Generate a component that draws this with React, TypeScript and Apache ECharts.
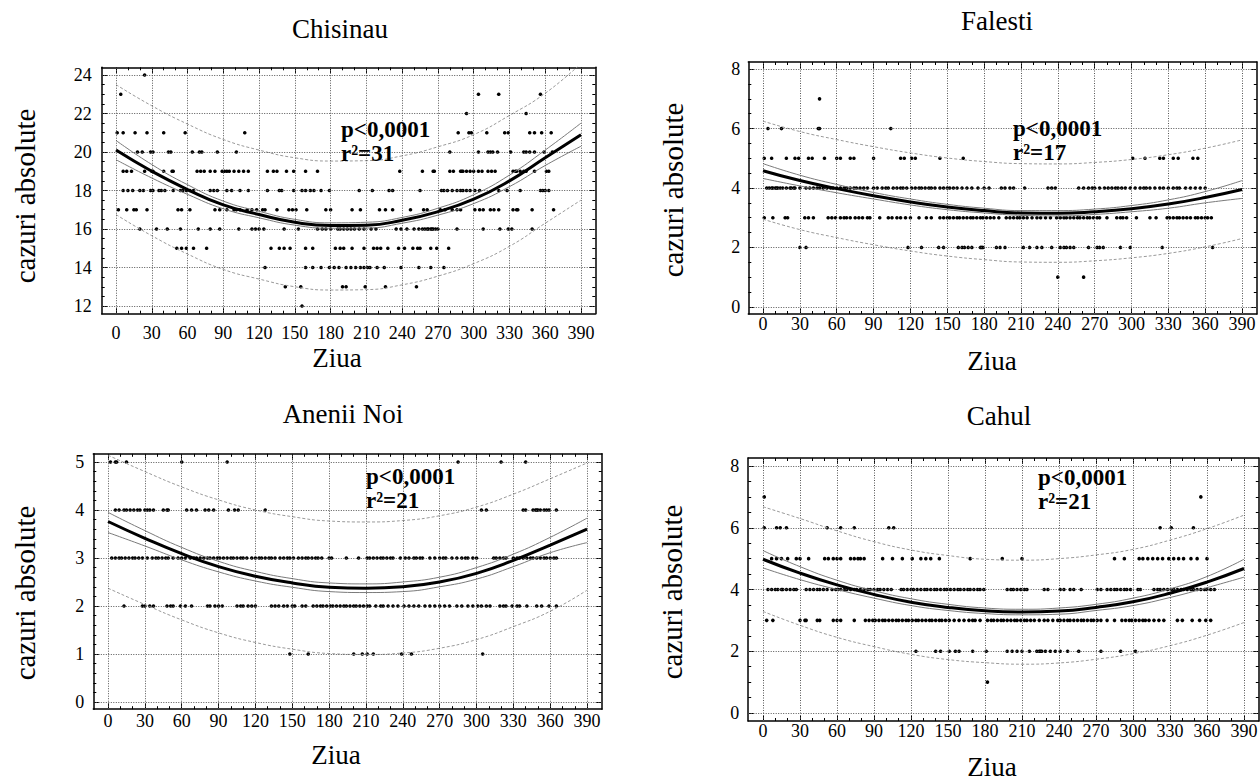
import React, { useEffect, useRef } from "react";
import * as echarts from "echarts";

// ---------- shared axis values ----------
const fitDays = [0, 30, 60, 90, 120, 150, 180, 210, 240, 270, 300, 330, 360, 390];
const xMajor = [0, 30, 60, 90, 120, 150, 180, 210, 240, 270, 300, 330, 360, 390];
const xMinor = [10, 20, 40, 50, 70, 80, 100, 110, 130, 140, 160, 170, 190, 200, 220, 230, 250, 260, 280, 290, 310, 320, 340, 350, 370, 380];

// ---------- Chisinau ----------
const chisinauRows: [number, number[]][] = [
  [24, [24]],
  [23, [4, 304, 321, 356]],
  [22, [294, 344]],
  [21, [1, 6, 16, 26, 40, 58, 108, 287, 296, 298, 311, 326, 329, 347, 351, 357, 365]],
  [20, [18, 22, 29, 31, 44, 46, 64, 70, 72, 85, 101, 280, 304, 312, 314, 316, 320, 331, 342, 344, 347, 351, 359, 366]],
  [19, [6, 9, 13, 24, 30, 31, 40, 47, 48, 68, 71, 74, 79, 83, 89, 91, 93, 95, 99, 103, 107, 111, 127, 132, 135, 143, 149, 159, 169, 238, 257, 266, 267, 280, 283, 289, 290, 291, 294, 297, 300, 304, 307, 312, 315, 318, 333, 335, 336, 339, 342, 344, 351, 361, 363]],
  [18, [6, 10, 14, 20, 23, 29, 31, 36, 38, 41, 48, 54, 56, 59, 62, 65, 79, 82, 85, 93, 97, 104, 111, 127, 137, 139, 149, 156, 159, 163, 166, 172, 179, 204, 215, 229, 232, 255, 273, 275, 278, 282, 286, 289, 291, 294, 297, 301, 305, 321, 328, 339, 356, 358, 360, 363]],
  [17, [2, 9, 15, 17, 26, 52, 55, 62, 83, 87, 93, 99, 101, 104, 110, 114, 118, 123, 125, 135, 145, 148, 151, 160, 176, 180, 198, 205, 221, 226, 232, 247, 258, 261, 272, 276, 282, 286, 289, 301, 305, 308, 314, 317, 321, 333, 336, 337, 349, 367]],
  [16, [20, 34, 43, 54, 69, 79, 87, 103, 114, 117, 120, 124, 141, 153, 169, 173, 176, 180, 186, 188, 191, 194, 197, 200, 204, 208, 214, 218, 235, 239, 244, 250, 254, 257, 259, 261, 262, 264, 265, 266, 268, 270, 286, 308, 322, 329, 332, 349]],
  [15, [51, 55, 59, 65, 76, 130, 137, 141, 146, 159, 165, 184, 188, 191, 198, 208, 216, 219, 222, 228, 237, 242, 249, 253, 255, 264, 269, 279]],
  [14, [125, 159, 165, 172, 179, 183, 187, 193, 197, 201, 205, 208, 211, 213, 219, 225, 239, 254, 264, 275]],
  [13, [142, 155, 190, 193, 209, 226, 252]],
  [12, [156]],
];
const chisinauFit = [20.1, 19.0, 18.05, 17.25, 16.75, 16.35, 16.18, 16.2, 16.45, 16.9, 17.55, 18.5, 19.7, 20.9];
const chisinauCiUp = [20.6, 19.35, 18.3, 17.45, 16.92, 16.5, 16.32, 16.35, 16.6, 17.08, 17.78, 18.8, 20.1, 21.5];
const chisinauCiLo = [19.6, 18.65, 17.8, 17.05, 16.58, 16.2, 16.04, 16.05, 16.3, 16.72, 17.32, 18.2, 19.3, 20.3];
const chisinauPiUp = [23.5, 22.4, 21.45, 20.65, 20.1, 19.7, 19.53, 19.55, 19.8, 20.27, 20.9, 21.9, 23.05, 24.6];
const chisinauPiLo = [16.75, 15.65, 14.7, 13.9, 13.4, 13.0, 12.83, 12.85, 13.1, 13.55, 14.2, 15.1, 16.3, 17.5];
const chisinauYMajor = [12, 14, 16, 18, 20, 22, 24];
const chisinauYMinor = [12.5, 13, 13.5, 14.5, 15, 15.5, 16.5, 17, 17.5, 18.5, 19, 19.5, 20.5, 21, 21.5, 22.5, 23, 23.5];

// ---------- Falesti ----------
const falestiRows: [number, number[]][] = [
  [7, [46]],
  [6, [4, 15, 45, 46, 104]],
  [5, [1, 7, 19, 26, 29, 37, 40, 50, 60, 63, 71, 74, 90, 112, 115, 121, 124, 144, 163, 301, 311, 323, 326, 334, 338, 350, 354]],
  [4, [3, 5, 7, 8, 10, 11, 12, 14, 16, 19, 22, 23, 25, 26, 30, 35, 38, 41, 44, 46, 49, 52, 55, 57, 60, 63, 66, 68, 71, 74, 76, 79, 82, 85, 90, 93, 97, 100, 102, 106, 109, 112, 114, 117, 121, 124, 127, 129, 132, 135, 137, 140, 144, 147, 150, 152, 155, 158, 162, 166, 170, 175, 180, 184, 194, 197, 201, 204, 213, 232, 235, 238, 257, 261, 265, 268, 270, 274, 278, 281, 284, 287, 289, 292, 295, 299, 303, 307, 310, 312, 315, 319, 323, 326, 330, 334, 337, 339, 344, 348, 352, 356, 360]],
  [3, [1, 8, 18, 20, 34, 37, 41, 53, 56, 59, 63, 66, 68, 71, 75, 78, 81, 85, 87, 95, 102, 105, 109, 112, 116, 120, 127, 133, 137, 144, 147, 150, 152, 155, 158, 160, 163, 166, 169, 171, 174, 177, 179, 182, 185, 188, 192, 198, 201, 204, 207, 209, 212, 215, 219, 223, 226, 230, 234, 239, 242, 245, 247, 250, 253, 256, 258, 261, 264, 266, 269, 272, 274, 280, 288, 291, 293, 296, 304, 315, 320, 329, 331, 334, 337, 339, 342, 345, 348, 352, 354, 357, 360, 362, 365]],
  [2, [30, 35, 118, 129, 143, 147, 159, 162, 164, 167, 170, 177, 178, 179, 190, 193, 197, 212, 217, 223, 227, 235, 242, 245, 247, 250, 253, 265, 272, 274, 277, 291, 299, 325, 366]],
  [1, [240, 261]],
];
const falestiFit = [4.58, 4.25, 3.98, 3.74, 3.53, 3.36, 3.24, 3.16, 3.15, 3.2, 3.3, 3.46, 3.68, 3.95];
const falestiCiUp = [4.82, 4.43, 4.12, 3.85, 3.63, 3.45, 3.32, 3.24, 3.24, 3.29, 3.41, 3.6, 3.88, 4.25];
const falestiCiLo = [4.32, 4.07, 3.84, 3.63, 3.43, 3.27, 3.16, 3.08, 3.06, 3.11, 3.2, 3.32, 3.5, 3.65];
const falestiPiUp = [6.25, 5.9, 5.63, 5.39, 5.18, 5.01, 4.89, 4.82, 4.81, 4.86, 4.96, 5.12, 5.34, 5.62];
const falestiPiLo = [2.95, 2.6, 2.33, 2.09, 1.88, 1.71, 1.59, 1.51, 1.5, 1.55, 1.65, 1.8, 2.02, 2.3];
const falestiYMajor = [0, 2, 4, 6, 8];
const falestiYMinor = [0.5, 1, 1.5, 2.5, 3, 3.5, 4.5, 5, 5.5, 6.5, 7, 7.5];

// ---------- Anenii Noi ----------
const aneniiRows: [number, number[]][] = [
  [5, [2, 6, 7, 15, 60, 97, 285, 320, 340]],
  [4, [6, 9, 13, 15, 18, 21, 24, 26, 30, 32, 34, 37, 45, 48, 49, 64, 68, 72, 79, 82, 86, 98, 103, 106, 128, 304, 308, 338, 340, 346, 348, 349, 350, 352, 355, 357, 359, 365]],
  [3, [3, 6, 9, 11, 14, 17, 20, 22, 25, 28, 32, 36, 39, 41, 44, 47, 49, 53, 57, 60, 63, 67, 70, 72, 75, 78, 81, 83, 86, 89, 91, 94, 97, 100, 102, 105, 108, 110, 113, 117, 120, 123, 125, 128, 131, 133, 136, 140, 143, 146, 148, 151, 155, 158, 161, 163, 166, 169, 171, 174, 180, 182, 194, 204, 211, 213, 216, 219, 222, 224, 227, 230, 232, 238, 242, 245, 249, 251, 254, 256, 262, 266, 270, 273, 275, 280, 284, 288, 291, 293, 297, 300, 314, 316, 319, 322, 324, 330, 333, 335, 338, 341, 344, 346, 349, 352, 355, 357, 360, 363, 365]],
  [2, [13, 28, 30, 34, 37, 48, 51, 53, 59, 63, 68, 81, 83, 87, 90, 93, 105, 108, 110, 114, 117, 120, 133, 136, 139, 143, 146, 150, 152, 158, 161, 167, 170, 173, 175, 178, 181, 183, 186, 189, 192, 194, 197, 200, 202, 205, 208, 211, 213, 218, 222, 224, 228, 232, 236, 241, 245, 249, 253, 258, 262, 266, 270, 274, 278, 284, 288, 293, 297, 301, 304, 308, 311, 319, 322, 324, 329, 333, 335, 341, 349, 353, 359, 365]],
  [1, [148, 163, 200, 207, 211, 216, 239, 247, 305]],
];
const aneniiFit = [3.76, 3.41, 3.09, 2.82, 2.62, 2.48, 2.39, 2.37, 2.4, 2.5, 2.68, 2.95, 3.27, 3.6];
const aneniiCiUp = [3.95, 3.57, 3.22, 2.93, 2.72, 2.57, 2.48, 2.46, 2.5, 2.6, 2.8, 3.08, 3.43, 3.83];
const aneniiCiLo = [3.53, 3.25, 2.96, 2.71, 2.52, 2.39, 2.3, 2.28, 2.3, 2.4, 2.56, 2.82, 3.11, 3.32];
const aneniiPiUp = [5.14, 4.8, 4.48, 4.21, 4.0, 3.86, 3.77, 3.75, 3.78, 3.88, 4.06, 4.33, 4.65, 4.98];
const aneniiPiLo = [2.37, 2.03, 1.71, 1.44, 1.24, 1.1, 1.01, 0.99, 1.02, 1.12, 1.3, 1.57, 1.89, 2.33];
const aneniiYMajor = [0, 1, 2, 3, 4, 5];
const aneniiYMinor = [0.2, 0.4, 0.6, 0.8, 1.2, 1.4, 1.6, 1.8, 2.2, 2.4, 2.6, 2.8, 3.2, 3.4, 3.6, 3.8, 4.2, 4.4, 4.6, 4.8];

// ---------- Cahul ----------
const cahulRows: [number, number[]][] = [
  [7, [1, 355]],
  [6, [1, 11, 14, 19, 52, 63, 74, 102, 106, 322, 331, 349]],
  [5, [7, 11, 15, 20, 27, 30, 37, 50, 53, 57, 60, 63, 71, 74, 77, 79, 82, 97, 105, 113, 121, 128, 132, 136, 143, 168, 194, 210, 285, 293, 305, 308, 312, 316, 320, 324, 329, 333, 337, 341, 347, 352, 360]],
  [4, [4, 7, 10, 12, 15, 16, 19, 22, 25, 27, 35, 38, 41, 44, 46, 49, 52, 56, 59, 61, 63, 66, 68, 71, 74, 76, 79, 82, 85, 87, 90, 93, 95, 98, 101, 104, 112, 114, 117, 120, 122, 125, 128, 131, 133, 136, 139, 141, 144, 147, 149, 152, 155, 158, 160, 163, 166, 168, 171, 174, 176, 179, 198, 201, 203, 206, 209, 212, 214, 228, 231, 241, 244, 249, 252, 258, 271, 274, 279, 282, 285, 287, 290, 293, 295, 298, 304, 306, 317, 320, 322, 325, 328, 331, 333, 336, 339, 341, 344, 347, 349, 352, 355, 358, 360, 363, 366]],
  [3, [3, 8, 30, 34, 35, 44, 46, 57, 60, 63, 74, 83, 86, 89, 91, 94, 97, 99, 102, 105, 108, 110, 113, 116, 118, 121, 124, 126, 129, 132, 135, 137, 140, 143, 145, 148, 151, 155, 159, 163, 167, 170, 172, 176, 182, 185, 187, 190, 193, 195, 198, 201, 204, 206, 209, 212, 214, 217, 220, 224, 228, 231, 235, 239, 241, 244, 247, 249, 252, 255, 258, 260, 263, 266, 268, 271, 274, 279, 285, 291, 294, 297, 299, 302, 305, 308, 310, 313, 317, 321, 325, 336, 340, 348, 354, 359, 363]],
  [2, [124, 140, 144, 151, 156, 159, 170, 181, 198, 202, 206, 210, 216, 222, 224, 225, 226, 229, 233, 237, 241, 247, 256, 274, 290, 302]],
  [1, [182]],
];
const cahulFit = [4.98, 4.53, 4.15, 3.84, 3.59, 3.42, 3.31, 3.27, 3.3, 3.42, 3.6, 3.88, 4.24, 4.68];
const cahulCiUp = [5.26, 4.74, 4.3, 3.96, 3.7, 3.52, 3.4, 3.36, 3.4, 3.52, 3.72, 4.02, 4.42, 4.98];
const cahulCiLo = [4.7, 4.32, 4.0, 3.72, 3.48, 3.32, 3.22, 3.18, 3.2, 3.32, 3.48, 3.74, 4.06, 4.4];
const cahulPiUp = [6.68, 6.3, 5.9, 5.55, 5.28, 5.1, 4.98, 4.95, 5.0, 5.12, 5.3, 5.6, 5.97, 6.41];
const cahulPiLo = [3.29, 2.84, 2.45, 2.15, 1.9, 1.73, 1.63, 1.58, 1.62, 1.74, 1.92, 2.18, 2.52, 2.93];
const cahulYMajor = [0, 2, 4, 6, 8];
const cahulYMinor = [0.5, 1, 1.5, 2.5, 3, 3.5, 4.5, 5, 5.5, 6.5, 7, 7.5];

// ---------- layout ----------
const FONT = "'Liberation Serif', 'DejaVu Serif', serif";

const panels = [
  {
    title: "Chisinau", stats: "p<0,0001\nr\u00B2=31", rows: chisinauRows,
    fit: chisinauFit, ciUp: chisinauCiUp, ciLo: chisinauCiLo, piUp: chisinauPiUp, piLo: chisinauPiLo,
    yMin: 11.6, yMax: 24.4, yMajor: chisinauYMajor, yMinor: chisinauYMinor,
    grid: { left: 101.7, top: 67.3, width: 493.6, height: 246.4 },
    xLabelMargin: 10, yLabelMargin: 10,
    titleXY: [340, 29], yNameXY: [25, 196], xNameXY: [337, 358], statsXY: [341, 141],
  },
  {
    title: "Falesti", stats: "p<0,0001\nr\u00B2=17", rows: falestiRows,
    fit: falestiFit, ciUp: falestiCiUp, ciLo: falestiCiLo, piUp: falestiPiUp, piLo: falestiPiLo,
    yMin: -0.24, yMax: 8.24, yMajor: falestiYMajor, yMinor: falestiYMinor,
    grid: { left: 748.3, top: 62, width: 508.5, height: 252 },
    xLabelMargin: 1, yLabelMargin: 8,
    titleXY: [997, 21], yNameXY: [673, 190], xNameXY: [992, 361], statsXY: [1013, 140.5],
  },
  {
    title: "Anenii Noi", stats: "p<0,0001\nr\u00B2=21", rows: aneniiRows,
    fit: aneniiFit, ciUp: aneniiCiUp, ciLo: aneniiCiLo, piUp: aneniiPiUp, piLo: aneniiPiLo,
    yMin: -0.15, yMax: 5.17, yMajor: aneniiYMajor, yMinor: aneniiYMinor,
    grid: { left: 93.3, top: 453.8, width: 508.5, height: 255.4 },
    xLabelMargin: 3, yLabelMargin: 9,
    titleXY: [343, 414], yNameXY: [25, 593], xNameXY: [336, 755], statsXY: [366, 488],
  },
  {
    title: "Cahul", stats: "p<0,0001\nr\u00B2=21", rows: cahulRows,
    fit: cahulFit, ciUp: cahulCiUp, ciLo: cahulCiLo, piUp: cahulPiUp, piLo: cahulPiLo,
    yMin: -0.26, yMax: 8.26, yMajor: cahulYMajor, yMinor: cahulYMinor,
    grid: { left: 748.2, top: 458, width: 510.6, height: 263 },
    xLabelMargin: 1, yLabelMargin: 9,
    titleXY: [999, 416], yNameXY: [672, 592], xNameXY: [992, 767], statsXY: [1038, 489],
  },
];

function hiddenAxis(gridIndex: number, min: number, max: number, position: string) {
  return {
    type: "value", gridIndex, min, max, position,
    splitLine: { show: false },
    axisLine: { show: false, onZero: false },
    axisTick: { show: false },
    axisLabel: { show: false },
  };
}

function tickAxis(gridIndex: number, min: number, max: number, position: string, values: number[], len: number, withLine: boolean, label: any) {
  const a: any = hiddenAxis(gridIndex, min, max, position);
  a.axisLine = { show: withLine, onZero: false, lineStyle: { color: "#000", width: 1.5 } };
  a.axisTick = { show: true, inside: true, length: len, customValues: values, lineStyle: { color: "#000", width: 1 } };
  if (label) {
    a.axisLabel = { show: true, customValues: values, color: "#000", fontSize: 18, fontFamily: FONT, fontWeight: "normal", ...label };
  } else {
    a.axisLabel = { show: false, customValues: values };
  }
  return a;
}

function buildOption() {
  const grid: any[] = [];
  const xAxis: any[] = [];
  const yAxis: any[] = [];
  const series: any[] = [];
  const graphic: any[] = [];
  const xMin = -12;
  const xMax = 402;

  panels.forEach((p, i) => {
    grid.push({ ...p.grid, show: false, containLabel: false, outerBoundsMode: "none" });
    xAxis.push(tickAxis(i, xMin, xMax, "bottom", xMajor, 6, true, { margin: p.xLabelMargin }));
    xAxis.push(tickAxis(i, xMin, xMax, "bottom", xMinor, 3, false, null));
    xAxis.push(tickAxis(i, xMin, xMax, "top", xMajor, 6, true, null));
    xAxis.push(tickAxis(i, xMin, xMax, "top", xMinor, 3, false, null));
    yAxis.push(tickAxis(i, p.yMin, p.yMax, "left", p.yMajor, 6, true, { margin: p.yLabelMargin }));
    yAxis.push(tickAxis(i, p.yMin, p.yMax, "left", p.yMinor, 3, false, null));
    yAxis.push(tickAxis(i, p.yMin, p.yMax, "right", p.yMajor, 6, true, null));
    yAxis.push(tickAxis(i, p.yMin, p.yMax, "right", p.yMinor, 3, false, null));

    const ax = 4 * i;
    const points = p.rows.flatMap(([v, days]) => days.map((d) => [d, v]));
    series.push({
      type: "scatter", xAxisIndex: ax, yAxisIndex: ax, data: points,
      symbol: "circle", symbolSize: 3.6, itemStyle: { color: "#000", opacity: 1 }, silent: true, z: 3,
      markLine: {
        silent: true, symbol: ["none", "none"], label: { show: false }, animation: false,
        lineStyle: { color: "#555", width: 1, type: [1, 1.5] },
        emphasis: { disabled: true },
        data: [...xMajor.map((v) => ({ xAxis: v })), ...p.yMajor.map((v) => ({ yAxis: v }))],
      },
    });
    const curve = (vals: number[], color: string, width: number, type: any, z: number) => ({
      type: "line", xAxisIndex: ax, yAxisIndex: ax, silent: true, z,
      data: fitDays.map((d, k) => [d, vals[k]]),
      smooth: 0.5, showSymbol: false, symbol: "none",
      lineStyle: { color, width, type },
    });
    series.push(curve(p.piUp, "#9a9a9a", 1, [3, 2], 4));
    series.push(curve(p.piLo, "#9a9a9a", 1, [3, 2], 4));
    series.push(curve(p.ciUp, "#7a7a7a", 1, "solid", 4));
    series.push(curve(p.ciLo, "#7a7a7a", 1, "solid", 4));
    series.push(curve(p.fit, "#000", 3, "solid", 5));

    const txt = (x: number, y: number, text: string, size: number, weight: string, align: string, rotation = 0, lineHeight?: number) => ({
      type: "text", x, y, rotation, z: 50, silent: true,
      style: {
        text, fontSize: size, fontFamily: FONT, fontWeight: weight, fill: "#000", lineHeight,
        textAlign: align, align, textVerticalAlign: "middle", verticalAlign: "middle",
      },
    });
    graphic.push(txt(p.titleXY[0], p.titleXY[1], p.title, 27, "normal", "center"));
    graphic.push(txt(p.xNameXY[0], p.xNameXY[1], "Ziua", 27, "normal", "center"));
    graphic.push(txt(p.yNameXY[0], p.yNameXY[1], "cazuri absolute", 29, "normal", "center", Math.PI / 2));
    graphic.push(txt(p.statsXY[0], p.statsXY[1], p.stats, 23, "bold", "left", 0, 24));
  });

  return {
    animation: false,
    backgroundColor: "#fff",
    textStyle: { fontFamily: FONT },
    grid, xAxis, yAxis, series, graphic,
  };
}

export default function App() {
  const ref = useRef<HTMLDivElement>(null);
  useEffect(() => {
    if (!ref.current) return;
    const chart = echarts.init(ref.current, null, { renderer: "svg", width: 1260, height: 782 });
    chart.setOption(buildOption() as any);
    return () => chart.dispose();
  }, []);
  return (
    <div
      ref={ref}
      style={{ position: "absolute", left: 0, top: 0, width: 1260, height: 782, background: "#fff" }}
    />
  );
}
